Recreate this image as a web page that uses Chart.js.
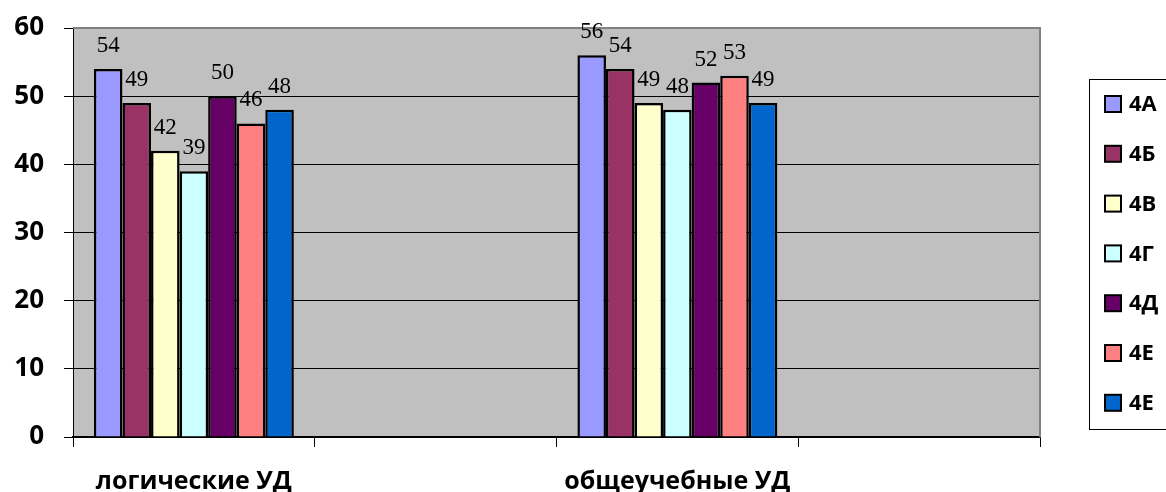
<!DOCTYPE html>
<html>
<head>
<meta charset="utf-8">
<script src="https://cdn.jsdelivr.net/npm/chart.js@4/dist/chart.umd.min.js"></script>
<style>
    html, body { margin: 0; padding: 0; background: #fff; }
    #wrap { width: 1166px; height: 492px; }
</style>
</head>
<body>
<div id="wrap"><canvas id="udChart" width="1166" height="492"></canvas></div>
<script>
// ========== данные ==========
const categories = ['логические УД', '', 'общеучебные УД', ''];
const classNames = ['4А', '4Б', '4В', '4Г', '4Д', '4Е', '4Е'];
const class4A = [54, null, 56, null];
const class4B = [49, null, 54, null];
const class4V = [42, null, 49, null];
const class4G = [39, null, 48, null];
const class4D = [50, null, 52, null];
const class4E = [46, null, 53, null];
const class4E2 = [48, null, 49, null];
const yTicks = [0, 10, 20, 30, 40, 50, 60];

const seriesValues = [class4A, class4B, class4V, class4G, class4D, class4E, class4E2];
const seriesColors = ['#9999FF', '#993366', '#FFFFCC', '#CCFFFF', '#660066', '#FF8080', '#0066CC'];

const sansBold = '"Open Sans", "Liberation Sans", sans-serif';

// фон области построения + рамка
const plotFramePlugin = {
    id: 'plotFrame',
    beforeDraw(chart) {
        const { ctx, chartArea: a } = chart;
        ctx.save();
        ctx.fillStyle = '#fff';
        ctx.fillRect(0, 0, chart.width, chart.height);
        ctx.fillStyle = '#C0C0C0';
        ctx.fillRect(a.left, a.top, a.right - a.left, a.bottom - a.top);
        ctx.restore();
    },
    afterDatasetsDraw(chart) {
        const { ctx, chartArea: a } = chart;
        ctx.save();
        ctx.strokeStyle = '#808080';
        ctx.lineWidth = 2;
        ctx.beginPath();
        ctx.moveTo(a.left, a.top);
        ctx.lineTo(a.right, a.top);
        ctx.lineTo(a.right, a.bottom);
        ctx.stroke();
        ctx.restore();
    }
};

// подписи значений над столбиками
const valueLabelPlugin = {
    id: 'valueLabels',
    afterDraw(chart) {
        const ctx = chart.ctx;
        ctx.save();
        ctx.fillStyle = '#000';
        ctx.font = '23px "Liberation Serif", "Times New Roman", serif';
        ctx.textAlign = 'center';
        ctx.textBaseline = 'alphabetic';
        chart.data.datasets.forEach((ds, i) => {
            chart.getDatasetMeta(i).data.forEach((bar, j) => {
                const v = ds.data[j];
                if (v === null || v === undefined) return;
                ctx.fillText(String(v), bar.x, bar.y - 17);
            });
        });
        ctx.restore();
    }
};

// легенда справа в рамке
const boxLegendPlugin = {
    id: 'boxLegend',
    afterDraw(chart) {
        const ctx = chart.ctx;
        ctx.save();
        ctx.strokeStyle = '#000';
        ctx.lineWidth = 1;
        ctx.strokeRect(1089.5, 79.5, 90, 350);
        ctx.font = 'bold 22px ' + sansBold;
        ctx.textBaseline = 'middle';
        ctx.textAlign = 'left';
        chart.data.datasets.forEach((ds, i) => {
            const cy = 104 + i * 49.8;
            ctx.fillStyle = ds.backgroundColor;
            ctx.fillRect(1105, cy - 8, 16, 16);
            ctx.lineWidth = 2;
            ctx.strokeRect(1105, cy - 8, 16, 16);
            ctx.fillStyle = '#000';
            ctx.fillText(ds.label, 1129, cy + 1);
        });
        ctx.restore();
    }
};

const ctx = document.getElementById('udChart').getContext('2d');
new Chart(ctx, {
    type: 'bar',
    data: {
        labels: categories,
        datasets: seriesValues.map((vals, i) => ({
            label: classNames[i],
            data: vals,
            backgroundColor: seriesColors[i],
            borderColor: '#000',
            borderWidth: 2.5,
            borderSkipped: 'bottom',
            categoryPercentage: 0.827,
            barPercentage: 1.0
        }))
    },
    options: {
        responsive: false,
        animation: false,
        layout: { padding: { top: 28, right: 126, left: 0, bottom: 0 } },
        plugins: {
            legend: { display: false },
            tooltip: { enabled: false }
        },
        scales: {
            x: {
                grid: {
                    display: true,
                    drawOnChartArea: false,
                    drawTicks: true,
                    tickLength: 10,
                    color: '#000',
                    offset: true
                },
                border: { color: '#000', width: 1.5 },
                ticks: {
                    color: '#000',
                    font: { family: sansBold, weight: 'bold', size: 25 },
                    padding: 20,
                    maxRotation: 0,
                    autoSkip: false
                },
                afterFit(scale) { scale.height = 55; }
            },
            y: {
                min: 0,
                max: 60,
                afterBuildTicks(scale) { scale.ticks = yTicks.map(v => ({ value: v })); },
                grid: { color: '#000', lineWidth: 1, tickLength: 9 },
                border: { color: '#000', width: 1 },
                ticks: {
                    color: '#000',
                    font: { family: sansBold, weight: 'bold', size: 26 },
                    padding: 20
                },
                afterFit(scale) {
                    scale.width = 73;
                    scale.paddingTop = 0;
                    scale.paddingBottom = 0;
                }
            }
        }
    },
    plugins: [plotFramePlugin, valueLabelPlugin, boxLegendPlugin]
});
</script>
</body>
</html>
